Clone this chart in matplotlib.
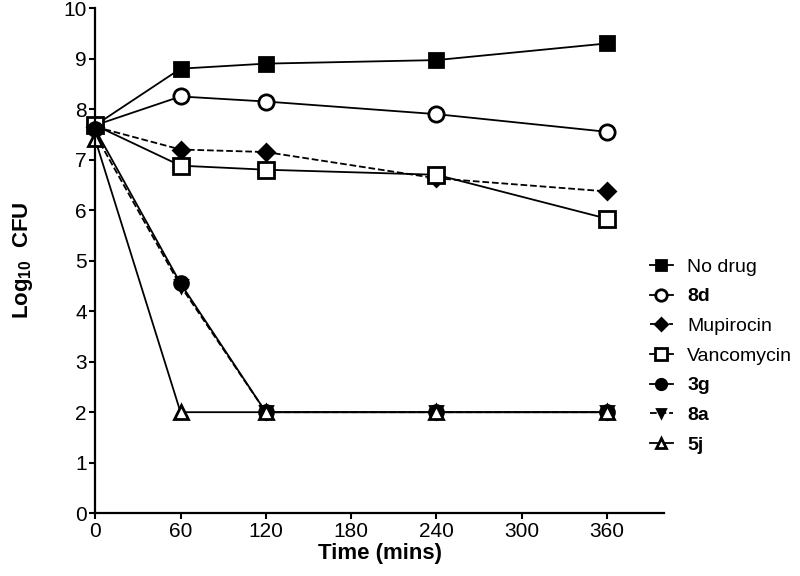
import matplotlib.pyplot as plt

plt.switch_backend("Agg")
plt.rcParams["font.family"] = ["Liberation Sans", "DejaVu Sans"]
plt.rcParams["mathtext.fontset"] = "custom"
plt.rcParams["mathtext.bf"] = "Liberation Sans:bold"
plt.rcParams["mathtext.rm"] = "Liberation Sans"

time = [0, 60, 120, 240, 360]
labels = ["No drug", "8d", "Mupirocin", "Vancomycin", "3g", "8a", "5j"]
no_drug = [7.68, 8.80, 8.90, 8.97, 9.30]
c8d = [7.68, 8.25, 8.15, 7.90, 7.55]
mupirocin = [7.65, 7.20, 7.15, 6.63, 6.37]
vancomycin = [7.68, 6.88, 6.80, 6.70, 5.83]
c3g = [7.60, 4.55, 2.0, 2.0, 2.0]
c8a = [7.50, 4.50, 2.0, 2.0, 2.0]
c5j = [7.40, 2.0, 2.0, 2.0, 2.0]
bold_labels = {"8d", "3g", "8a", "5j"}

series = [no_drug, c8d, mupirocin, vancomycin, c3g, c8a, c5j]
styles = [
    dict(marker="s", mfc="black", ls="-", ms=10),
    dict(marker="o", mfc="white", ls="-", ms=11),
    dict(marker="D", mfc="black", ls="--", ms=8),
    dict(marker="s", mfc="white", ls="-", ms=11),
    dict(marker="o", mfc="black", ls="-", ms=10),
    dict(marker="v", mfc="black", ls="--", ms=8),
    dict(marker="^", mfc="white", ls="-", ms=10),
]

fig = plt.figure(figsize=(8, 5.76), dpi=100)
ax = fig.add_axes([0.119, 0.109, 0.711, 0.877])

for vals, lab, st in zip(series, labels, styles):
    ax.plot(time, vals, color="black", lw=1.3, mec="black", mew=2,
            label=lab, clip_on=False, **st)

ax.set_xlim(0, 400)
ax.set_ylim(0, 10)
ax.set_xticks([0, 60, 120, 180, 240, 300, 360])
ax.set_yticks(range(0, 11))
ax.spines[["top", "right"]].set_visible(False)
ax.spines[["left", "bottom"]].set_linewidth(1.6)
ax.tick_params(direction="out", length=4, width=1.5, labelsize=15, pad=2)
ax.set_xlabel("Time (mins)", fontsize=16, fontweight="bold", labelpad=2)
ax.set_ylabel(r"Log$_{\mathbf{10}}$  CFU", fontsize=16, fontweight="bold")
ax.yaxis.set_label_coords(-0.106, 0.5)

leg = fig.legend(loc="center left", bbox_to_anchor=(0.803, 0.382),
                 bbox_transform=fig.transFigure, borderaxespad=0,
                 frameon=False, fontsize=14, handlelength=1.15,
                 handletextpad=0.75, labelspacing=0.62, markerscale=0.75)
for t in leg.get_texts():
    if t.get_text() in bold_labels:
        t.set_fontweight("bold")

fig.savefig("out.png", dpi=100)
